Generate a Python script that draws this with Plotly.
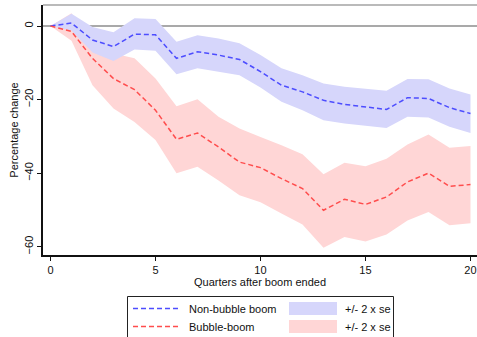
import plotly.graph_objects as go

quarters = list(range(21))

# Non-bubble boom: point estimate and +/- 2 x se band
nonbubble_mean = [0, 0.8, -3.8, -5.6, -2.2, -2.4, -8.8, -7.0, -7.9, -9.1, -12.4,
                  -16.1, -17.9, -20.2, -21.3, -22.0, -22.7, -19.5, -19.7, -22.2, -23.8]
nonbubble_upper = [0, 3.3, -0.3, -1.7, 2.1, 1.9, -4.3, -2.5, -3.4, -4.7, -7.9,
                   -11.5, -13.4, -15.6, -16.5, -17.0, -17.6, -14.4, -14.5, -17.0, -18.6]
nonbubble_lower = [0, -1.2, -7.2, -9.5, -6.4, -6.7, -13.1, -11.5, -12.4, -13.4, -16.7,
                   -20.6, -22.9, -25.6, -26.5, -27.2, -27.7, -24.7, -24.9, -27.4, -29.1]

# Bubble boom: point estimate and +/- 2 x se band
bubble_mean = [0, -1.5, -8.8, -14.3, -17.3, -22.9, -30.8, -29.1, -32.9, -37.0, -38.5,
               -41.5, -44.2, -50.1, -47.1, -48.5, -46.5, -42.4, -40.0, -43.6, -43.1]
bubble_upper = [0, 3.5, -5.6, -7.5, -8.8, -14.3, -21.8, -19.9, -24.7, -27.9, -30.2,
                -32.4, -34.9, -40.3, -37.2, -38.1, -36.1, -32.2, -29.5, -33.1, -32.6]
bubble_lower = [0, -4.0, -16.1, -22.4, -26.1, -31.0, -40.0, -38.3, -42.0, -46.0, -47.9,
                -51.0, -54.0, -60.3, -57.4, -58.6, -56.7, -52.9, -50.6, -54.2, -53.6]

x_ticks = [0, 5, 10, 15, 20]
y_ticks = [0, -20, -40, -60]

BLUE_LINE = "#4d4dff"
BLUE_FILL = "#d6d6fb"
RED_LINE = "#ff4d4d"
RED_FILL = "#ffd6d6"
DASH = "5px,3px"
FONT = "Liberation Sans, Arial, sans-serif"

fig = go.Figure()


def add_band(upper, lower, fill):
    xs = quarters + quarters[::-1]
    ys = upper + lower[::-1]
    fig.add_trace(go.Scatter(x=xs, y=ys, mode="lines", fill="toself",
                             fillcolor=fill, line=dict(width=0),
                             hoverinfo="skip", showlegend=False))


add_band(bubble_upper, bubble_lower, RED_FILL)
add_band(nonbubble_upper, nonbubble_lower, BLUE_FILL)

fig.add_trace(go.Scatter(x=quarters, y=nonbubble_mean, mode="lines",
                         line=dict(color=BLUE_LINE, width=1.5, dash=DASH),
                         showlegend=False))
fig.add_trace(go.Scatter(x=quarters, y=bubble_mean, mode="lines",
                         line=dict(color=RED_LINE, width=1.5, dash=DASH),
                         showlegend=False))

# zero reference line and top frame line
fig.add_shape(type="line", xref="paper", yref="y", x0=0, x1=1, y0=0, y1=0,
              line=dict(color="#555555", width=1.2), layer="below")
fig.add_shape(type="line", xref="paper", yref="paper", x0=0, x1=1, y0=1, y1=1,
              line=dict(color="#777777", width=1.2))

# legend box drawn in paper coordinates
H = 337 - 5 - 82
W = 477 - 43


def px_x(p):
    return (p - 43) / W


def px_y(p):
    return (255 - p) / H


fig.add_shape(type="rect", xref="paper", yref="paper",
              x0=px_x(127.5), x1=px_x(393.5), y0=px_y(345), y1=px_y(296.5),
              line=dict(color="#222222", width=1), fillcolor="white")

legend_rows = [
    ("Non-bubble boom", BLUE_LINE, BLUE_FILL, 308.5),
    ("Bubble-boom", RED_LINE, RED_FILL, 326.5),
]
for label, lc, fc, yy in legend_rows:
    fig.add_shape(type="line", xref="paper", yref="paper",
                  x0=px_x(133), x1=px_x(180), y0=px_y(yy), y1=px_y(yy),
                  line=dict(color=lc, width=1.5, dash=DASH))
    fig.add_shape(type="rect", xref="paper", yref="paper",
                  x0=px_x(289), x1=px_x(337), y0=px_y(yy + 6.5), y1=px_y(yy - 6.5),
                  line=dict(width=0), fillcolor=fc)
    fig.add_annotation(xref="paper", yref="paper", x=px_x(187), y=px_y(yy),
                       text=label, showarrow=False, xanchor="left", yanchor="middle",
                       font=dict(family=FONT, size=11, color="#111111"))
    fig.add_annotation(xref="paper", yref="paper", x=px_x(343), y=px_y(yy),
                       text="+/- 2 x se", showarrow=False, xanchor="left", yanchor="middle",
                       font=dict(family=FONT, size=11, color="#111111"))

fig.update_layout(
    width=477, height=337,
    margin=dict(l=43, r=0, t=5, b=82),
    plot_bgcolor="white", paper_bgcolor="white",
    font=dict(family=FONT, size=11, color="#111111"),
    showlegend=False,
    xaxis=dict(range=[-0.357, 20.31], tickvals=x_ticks, ticks="outside",
               ticklen=4, tickcolor="#111111", showgrid=False, zeroline=False,
               showline=True, linecolor="#111111", linewidth=1.5,
               title=dict(text="Quarters after boom ended", standoff=2,
                          font=dict(size=11)),
               tickfont=dict(size=11)),
    yaxis=dict(range=[-62.26, 5.71], tickvals=y_ticks, ticks="outside",
               ticklen=4, tickcolor="#111111", showgrid=False, zeroline=False,
               showline=True, linecolor="#111111", linewidth=1.5,
               tickangle=-90, tickfont=dict(size=11),
               title=dict(text="Percentage change", standoff=2,
                          font=dict(size=11))),
)

fig.write_html("out.html")
